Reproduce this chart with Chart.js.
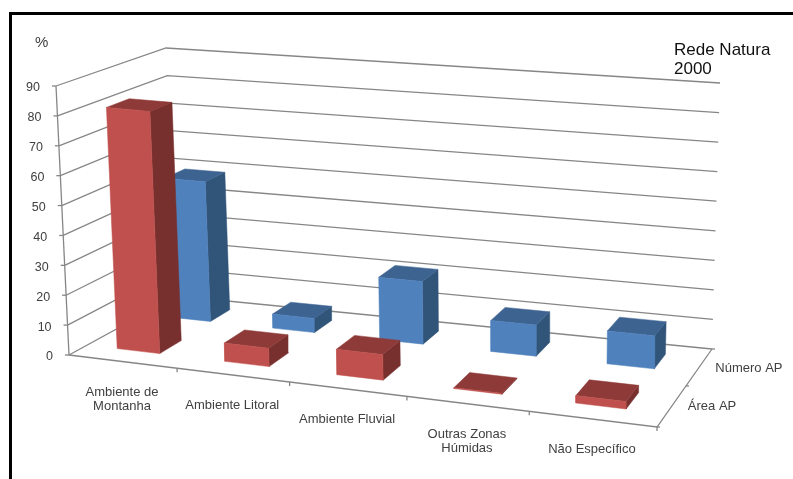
<!DOCTYPE html>
<html>
<head>
<meta charset="utf-8">
<title>Rede Natura 2000</title>
<script src="https://cdn.jsdelivr.net/npm/chart.js@4"></script>
<style>
    html, body { margin: 0; padding: 0; background: #fff; }
    canvas { display: block; }
</style>
</head>
<body>
<canvas id="chart" width="793" height="479"></canvas>
<script>
// values (%)
const categorias = [["Ambiente de", "Montanha"], ["Ambiente Litoral"], ["Ambiente Fluvial"], ["Outras Zonas", "Húmidas"], ["Não Específico"]];
const areaAP = [81.5, 6.1, 8.4, 0.3, 2.4];
const numeroAP = [49, 4.9, 21.4, 10.5, 11];
const seriesNomes = ["Área AP", "Número AP"];
const yTicks = [0, 10, 20, 30, 40, 50, 60, 70, 80, 90];

const vermelho = { front: "#c0504d", top: "#8e3a38", side: "#78302e" };
const azul = { front: "#4f81bd", top: "#3d6391", side: "#315479" };
const cinza = "#868686";

// corners of the 3d box as seen in the picture: front-left, front-right, back-right, back-left
const floorQuad = [[69, 355], [657, 427], [712, 349], [177, 296]];
const topQuad = [[56, 86], [658, 142], [720, 83], [166, 48]];

// foreshortening along the category and depth directions
function warp(t, r) {
    return t / (t + r * (1 - t));
}

function bilinear(q, a, b) {
    let out = [];
    for (let k = 0; k < 2; k++) {
        let front = q[0][k] + (q[1][k] - q[0][k]) * a;
        let back = q[3][k] + (q[2][k] - q[3][k]) * a;
        out.push(front + (back - front) * b);
    }
    return out;
}

// u: category position 0..5, d: depth 0 (front)..1 (back), val: value in %
function project(u, d, val) {
    let a = warp(u / categorias.length, 1.11);
    let b = warp(d, 0.9);
    let p0 = bilinear(floorQuad, a, b);
    let p1 = bilinear(topQuad, a, b);
    let t = val / 90;
    return { x: p0[0] + (p1[0] - p0[0]) * t, y: p0[1] + (p1[1] - p0[1]) * t };
}

function polyDataset(points, color) {
    return {
        data: points.concat([points[0]]),
        showLine: true, fill: "shape", backgroundColor: color,
        borderColor: color, borderWidth: 0.5, pointRadius: 0, tension: 0, clip: false
    };
}
function lineDataset(points) {
    return {
        data: points, showLine: true, fill: false,
        borderColor: cinza, borderWidth: 1.3, pointRadius: 0, tension: 0, clip: false
    };
}

let painted = [];

// walls
yTicks.forEach(v => {
    painted.push(lineDataset([project(0, 0, v), project(0, 1, v), project(5, 1, v)]));
});
// axes and tick marks
painted.push(lineDataset([project(0, 0, 0), project(0, 0, 90)]));
painted.push(lineDataset([project(0, 0, 0), project(5, 0, 0), project(5, 1, 0)]));
yTicks.forEach(v => {
    let p = project(0, 0, v);
    painted.push(lineDataset([{ x: p.x - 4, y: p.y }, p]));
});
categorias.forEach((c, i) => {
    let p = project(i + 1, 0, 0);
    painted.push(lineDataset([p, { x: p.x, y: p.y + 4 }]));
});
[0, 0.5, 1].forEach(d => {
    let p = project(5, d, 0);
    painted.push(lineDataset([p, { x: p.x + 3, y: p.y }]));
});

function addBar(u0, u1, d0, d1, val, col) {
    painted.push(polyDataset([project(u1, d0, 0), project(u1, d1, 0), project(u1, d1, val), project(u1, d0, val)], col.side));
    painted.push(polyDataset([project(u0, d0, val), project(u1, d0, val), project(u1, d1, val), project(u0, d1, val)], col.top));
    painted.push(polyDataset([project(u0, d0, 0), project(u1, d0, 0), project(u1, d0, val), project(u0, d0, val)], col.front));
}
// back row first so the front row covers it
numeroAP.forEach((v, i) => addBar(i + 0.27, i + 0.665, 0.667, 0.868, v, azul));
areaAP.forEach((v, i) => addBar(i + 0.285, i + 0.685, 0.155, 0.357, v, vermelho));

// Chart.js paints the first dataset last
painted.reverse();

const textPlugin = {
    id: "textos",
    afterDatasetsDraw(chart) {
        let ctx = chart.ctx;
        let px = p => ({ x: chart.scales.x.getPixelForValue(p.x), y: chart.scales.y.getPixelForValue(p.y) });

        // frame
        ctx.save();
        ctx.fillStyle = "#000";
        ctx.fillRect(9, 12, 784, 3);
        ctx.fillRect(9, 12, 3, 467);

        ctx.fillStyle = "#404040";
        ctx.textBaseline = "middle";

        ctx.font = "12.5px 'Liberation Sans'";
        ctx.textAlign = "right";
        yTicks.forEach(v => {
            let p = px(project(0, 0, v));
            ctx.fillText(v, p.x - 16, p.y + 2);
        });

        ctx.font = "13px 'Liberation Sans'";
        ctx.textAlign = "center";
        categorias.forEach((linhas, i) => {
            let p = px(project(i + 0.5, 0, 0));
            linhas.forEach((l, k) => ctx.fillText(l, p.x - 0.5, p.y + 30.5 + k * 14));
        });

        ctx.textAlign = "left";
        seriesNomes.forEach((n, i) => {
            let p = px(project(5, 0.25 + i * 0.5, 0));
            ctx.fillText(n, p.x + 16, p.y + 1);
        });

        ctx.font = "15px 'Liberation Sans'";
        ctx.fillText("%", 35, 43);

        ctx.fillStyle = "#111";
        ctx.font = "17px 'Liberation Sans'";
        ctx.fillText("Rede Natura", 674, 50);
        ctx.fillText("2000", 674, 69);
        ctx.restore();
    }
};

new Chart(document.getElementById("chart"), {
    type: "scatter",
    data: { datasets: painted },
    options: {
        responsive: false,
        animation: false,
        events: [],
        layout: { padding: 0 },
        plugins: { legend: { display: false }, tooltip: { enabled: false } },
        scales: {
            x: { type: "linear", min: 0, max: 793, display: false },
            y: { type: "linear", min: 0, max: 479, reverse: true, display: false }
        }
    },
    plugins: [textPlugin]
});
</script>
</body>
</html>
